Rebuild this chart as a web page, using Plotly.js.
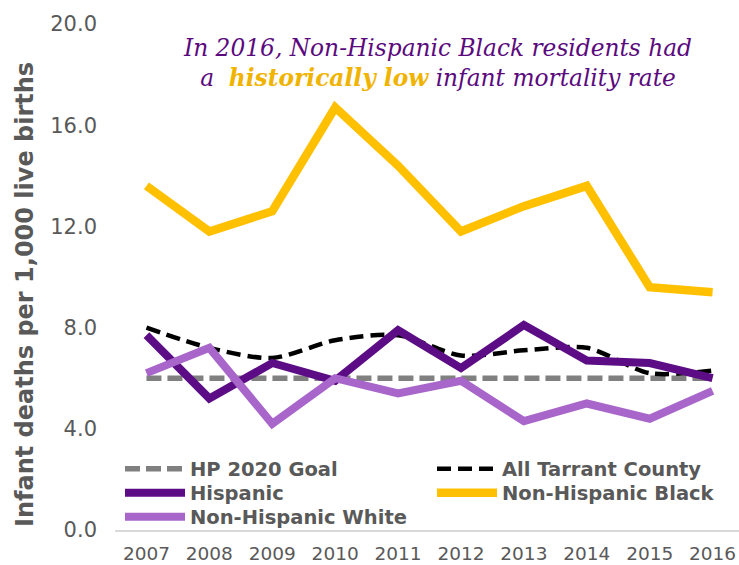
<!DOCTYPE html>
<html>
<head>
<meta charset="utf-8">
<script src="https://cdn.plot.ly/plotly-3.0.1.min.js"></script>
<style>html,body{margin:0;padding:0;background:#fff;}#chart{width:739px;height:565px;}</style>
</head>
<body>
<div id="chart"></div>
<script>
const years = ['2007','2008','2009','2010','2011','2012','2013','2014','2015','2016'];
const hp2020Goal = [6.0,6.0,6.0,6.0,6.0,6.0,6.0,6.0,6.0,6.0];
const allTarrant = [8.0,7.2,6.8,7.5,7.7,6.9,7.1,7.2,6.2,6.3];
const hispanic = [7.7,5.2,6.6,5.9,7.9,6.4,8.1,6.7,6.6,6.0];
const nhBlack = [13.6,11.8,12.6,16.7,14.4,11.8,12.8,13.6,9.6,9.4];
const nhWhite = [6.2,7.2,4.2,6.0,5.4,5.9,4.3,5.0,4.4,5.5];
const yTicks = [0,4,8,12,16,20];
const yTickText = ['0.0','4.0','8.0','12.0','16.0','20.0'];

const traces = [
  {name:'HP 2020 Goal', legend:'legend', x:years, y:hp2020Goal, mode:'lines', line:{color:'#808080', width:5.5, dash:'15px,6px'}},
  {name:'All Tarrant County', legend:'legend2', x:years, y:allTarrant, mode:'lines', line:{color:'#000000', width:4.5, dash:'14px,7px', shape:'spline', smoothing:0.8}},
  {name:'Hispanic', legend:'legend3', x:years, y:hispanic, mode:'lines', line:{color:'#5C0C85', width:8}},
  {name:'Non-Hispanic Black', legend:'legend4', x:years, y:nhBlack, mode:'lines', line:{color:'#FFC000', width:8.5}},
  {name:'Non-Hispanic White', legend:'legend5', x:years, y:nhWhite, mode:'lines', line:{color:'#A865CA', width:8}}
];

const legendFont = {family:'DejaVu Sans', size:19.5, color:'#595959', weight:'bold'};
const px = v => (v - 115) / 624;
const py = v => (530 - v) / 506;
function leg(x, y) {
  return {orientation:'v', x:px(x), y:py(y), xanchor:'left', yanchor:'middle',
    itemwidth:60, bgcolor:'rgba(0,0,0,0)', font:legendFont};
}

const layout = {
  width:739, height:565,
  margin:{l:115, r:0, t:24, b:35},
  paper_bgcolor:'#fff', plot_bgcolor:'#fff',
  showlegend:true,
  legend:leg(120, 469),
  legend2:leg(432, 469),
  legend3:leg(120, 493),
  legend4:leg(432, 493),
  legend5:leg(120, 517),
  xaxis:{type:'category', range:[-0.5,9.42], showgrid:false, zeroline:false, automargin:false,
    showline:true, linecolor:'#D9D9D9', linewidth:1.5, ticks:'', ticklabelstandoff:6,
    tickfont:{family:'DejaVu Sans', size:18.5, color:'#595959'}},
  yaxis:{range:[0,20], tickvals:yTicks, ticktext:yTickText, showgrid:false, zeroline:false, automargin:false,
    showline:false, ticks:'', ticklabelstandoff:17,
    tickfont:{family:'DejaVu Sans', size:21, color:'#595959'}},
  annotations:[
    {xref:'paper', yref:'paper', x:px(25), y:py(295), xanchor:'center', yanchor:'middle', textangle:-90,
     text:'<b>Infant deaths per 1,000 live births</b>', showarrow:false,
     font:{family:'DejaVu Sans', size:24, color:'#595959'}},
    {xref:'paper', yref:'paper', x:px(437), y:py(62), xanchor:'center', yanchor:'middle',
     text:'<i>In 2016, Non-Hispanic Black residents had<br>a&nbsp; <b><span style="color:#F0B400">historically low</span></b> infant mortality rate</i>',
     showarrow:false, align:'center',
     font:{family:'DejaVu Serif', size:23.3, color:'#5B0A7E'}}
  ]
};

Plotly.newPlot('chart', traces, layout, {displayModeBar:false, staticPlot:true});
</script>
</body>
</html>
